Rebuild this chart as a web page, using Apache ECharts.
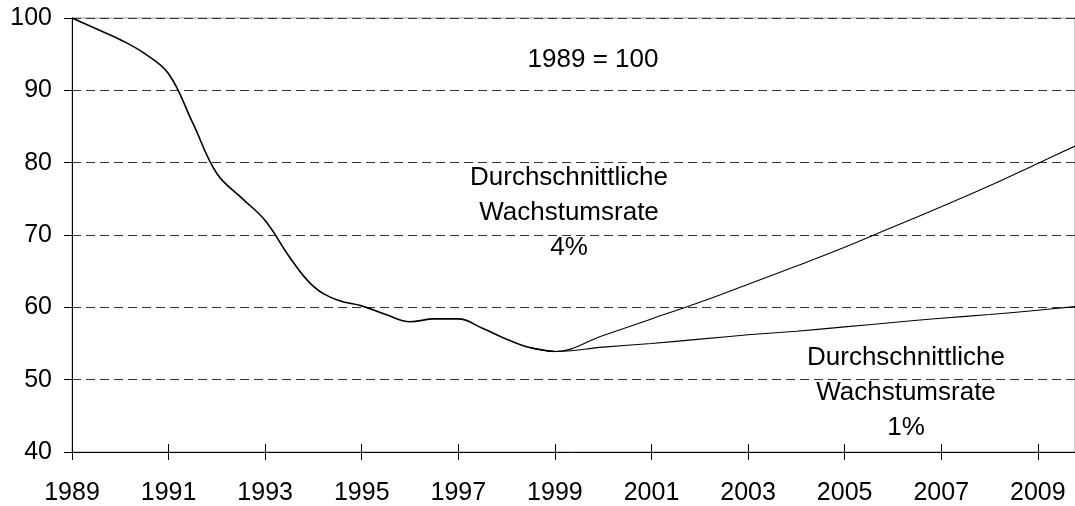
<!DOCTYPE html>
<html style="height: 100%">
<head>
    <meta charset="utf-8">
</head>
<body style="height: 100%; margin: 0; background: #fff">
<div id="container" style="width: 1075px; height: 506px"></div>
<script type="text/javascript" src="https://cdn.jsdelivr.net/npm/echarts@6/dist/echarts.min.js"></script>
<script type="text/javascript">
    // Verlauf 1989-1999 (Halbjahreswerte)
    var histYears = [1989, 1989.5, 1990, 1990.5, 1991, 1991.5, 1992, 1992.5, 1993, 1993.5,
        1994, 1994.5, 1995, 1995.5, 1996, 1996.5, 1997, 1997.5, 1998, 1998.5, 1999];
    var histValues = [100, 98.5, 97.0, 95.1, 92.3, 85.5, 78.5, 75.2, 72.0, 67.0,
        62.9, 61.0, 60.2, 59.0, 58.0, 58.4, 58.4, 57.1, 55.6, 54.4, 53.9];

    // Fortschreibung ab 1999 (erster Punkt = letzter Halbjahreswert davor)
    var growthYears = [1998.5, 1999, 2000, 2001, 2002, 2003, 2004, 2005, 2006, 2007, 2008, 2009, 2009.77];
    var growth4 = [54.4, 53.9, 56.1, 58.4, 60.7, 63.2, 65.7, 68.3, 71.1, 73.9, 76.8, 79.9, 82.3];
    var growth1 = [54.4, 53.9, 54.5, 55.0, 55.6, 56.2, 56.7, 57.3, 57.9, 58.5, 59.0, 59.6, 60.1];

    // Achsenbeschriftung
    var xTicks = [1989, 1991, 1993, 1995, 1997, 1999, 2001, 2003, 2005, 2007, 2009];

    function pairs(xs, ys) {
        var out = [];
        for (var i = 0; i < xs.length; i++) {
            out.push([xs[i], ys[i]]);
        }
        return out;
    }

    var dom = document.getElementById("container");
    var myChart = echarts.init(dom, null, {renderer: 'canvas'});

    var font = 'Arial, "Liberation Sans", sans-serif';

    var option = {
        animation: false,
        grid: {
            left: 72,
            right: -1,
            top: 18,
            bottom: 53,
            show: true,
            borderColor: '#999',
            borderWidth: 1
        },
        xAxis: [{
            type: 'value',
            min: 1989,
            max: 2009.77,
            axisLine: {lineStyle: {color: '#000', width: 1}},
            axisTick: {
                customValues: xTicks,
                length: 8,
                lineStyle: {color: '#000'}
            },
            axisLabel: {
                customValues: xTicks,
                margin: 29,
                color: '#000',
                fontSize: 25,
                fontFamily: font,
                formatter: function (v) { return String(v); }
            },
            splitLine: {show: false}
        }, {
            type: 'value',
            min: 1989,
            max: 2009.77,
            position: 'bottom',
            axisLine: {show: false},
            axisTick: {
                customValues: xTicks,
                inside: true,
                length: 8,
                lineStyle: {color: '#000'}
            },
            axisLabel: {show: false},
            splitLine: {show: false}
        }],
        yAxis: {
            type: 'value',
            min: 40,
            max: 100,
            interval: 10,
            axisLine: {show: true, lineStyle: {color: '#000', width: 1}},
            axisTick: {show: true, length: 8, lineStyle: {color: '#000'}},
            axisLabel: {
                margin: 20,
                color: '#000',
                fontSize: 25,
                fontFamily: font
            },
            splitLine: {
                show: true,
                lineStyle: {color: '#333', type: [9, 5], width: 1}
            }
        },
        series: [{
            type: 'line',
            data: pairs(histYears, histValues),
            smooth: 0.4,
            symbol: 'none',
            lineStyle: {color: '#000', width: 1.6}
        }, {
            type: 'line',
            data: pairs(growthYears, growth4),
            smooth: 0.4,
            symbol: 'none',
            lineStyle: {color: '#000', width: 1.1}
        }, {
            type: 'line',
            data: pairs(growthYears, growth1),
            smooth: 0.4,
            symbol: 'none',
            lineStyle: {color: '#000', width: 1.1}
        }],
        graphic: [{
            type: 'text',
            x: 593,
            y: 60,
            style: {
                text: '1989 = 100',
                fill: '#000',
                font: '26px ' + font,
                align: 'center',
                verticalAlign: 'middle'
            }
        }, {
            type: 'text',
            x: 569,
            y: 213,
            style: {
                text: 'Durchschnittliche\nWachstumsrate\n4%',
                fill: '#000',
                font: '26px ' + font,
                lineHeight: 35,
                align: 'center',
                verticalAlign: 'middle'
            }
        }, {
            type: 'text',
            x: 906,
            y: 393,
            style: {
                text: 'Durchschnittliche\nWachstumsrate\n1%',
                fill: '#000',
                font: '26px ' + font,
                lineHeight: 35,
                align: 'center',
                verticalAlign: 'middle'
            }
        }]
    };

    myChart.setOption(option);
</script>
</body>
</html>
